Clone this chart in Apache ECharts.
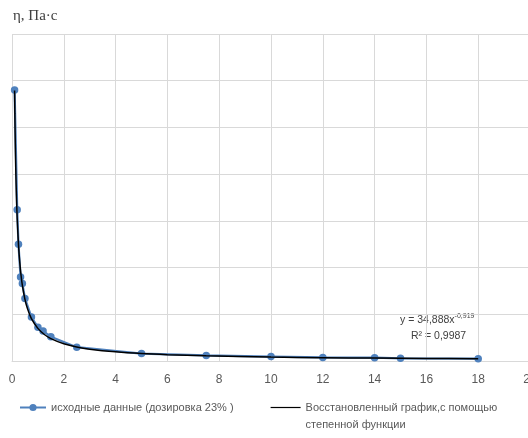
<!DOCTYPE html>
<html>
<head>
<meta charset="utf-8">
<script src="https://cdn.jsdelivr.net/npm/echarts@6/dist/echarts.min.js"></script>
<style>
  html, body { margin: 0; padding: 0; background: #fff; }
  #chart { width: 528px; height: 438px; }
</style>
</head>
<body>
<div id="chart"></div>
<script>
// Shear rate and measured viscosity (dosage 23 %)
const rateX = [0.1, 0.2, 0.25, 0.33, 0.4, 0.5, 0.75, 1, 1.2, 1.5, 2.5, 5, 7.5, 10, 12, 14, 15, 18];
const viscosity = [290, 162, 125, 90, 83, 67, 47, 36, 32, 26, 14.8, 7.9, 6.0, 4.8, 3.8, 3.5, 2.9, 2.5];

// Power-law fit y = 34,888 x^-0,919 sampled over the data range
const fitX = [0.1, 0.11, 0.12, 0.13, 0.14, 0.15, 0.17, 0.2, 0.25, 0.3, 0.35, 0.4, 0.5, 0.6, 0.75, 1, 1.25, 1.5, 2, 2.5, 3, 4, 5, 6, 7.5, 10, 12, 14, 16, 18];
const fitY = [289.5, 265.3, 244.8, 227.5, 212.5, 199.5, 177.8, 153.1, 124.7, 105.5, 91.5, 81.0, 66.0, 55.8, 45.4, 34.9, 28.4, 24.0, 18.5, 15.0, 12.7, 9.8, 7.9, 6.7, 5.5, 4.2, 3.6, 3.1, 2.7, 2.5];

const xTicks = [0, 2, 4, 6, 8, 10, 12, 14, 16, 18, 20];

const dataName = 'исходные данные (дозировка 23% )';
const fitName = 'Восстановленный график,с помощью\nстепенной функции';

const chart = echarts.init(document.getElementById('chart'), null, { renderer: 'canvas' });
const sans = 'Liberation Sans, Arial, sans-serif';

chart.setOption({
  animation: false,
  backgroundColor: '#ffffff',
  title: {
    text: 'η, Па·с',
    left: 8,
    top: 4,
    textStyle: { fontFamily: 'Liberation Serif, Times New Roman, serif', fontSize: 15, fontWeight: 'normal', color: '#404040' }
  },
  grid: { left: 12, top: 34, width: 518, height: 327, containLabel: false, outerBoundsMode: 'none' },
  xAxis: {
    type: 'value',
    min: xTicks[0],
    max: xTicks[xTicks.length - 1],
    interval: 2,
    axisLine: { show: true, lineStyle: { color: '#d9d9d9', width: 1 } },
    axisTick: { show: false },
    axisLabel: { color: '#595959', fontFamily: sans, fontSize: 12, margin: 13, showMaxLabel: true, hideOverlap: false },
    splitLine: { show: true, lineStyle: { color: '#d9d9d9', width: 1 } }
  },
  yAxis: {
    type: 'value',
    min: 0,
    max: 350,
    interval: 50,
    axisLine: { show: false },
    axisTick: { show: false },
    axisLabel: { show: false },
    splitLine: { show: true, lineStyle: { color: '#d9d9d9', width: 1 } }
  },
  legend: [
    {
      data: [dataName],
      left: 14,
      top: 397,
      itemWidth: 26,
      itemHeight: 9,
      textStyle: { color: '#595959', fontFamily: sans, fontSize: 11 }
    },
    {
      data: [{ name: fitName, itemStyle: { opacity: 0 } }],
      left: 265,
      top: 377,
      itemWidth: 30,
      itemHeight: 14,
      lineStyle: { width: 1.2 },
      formatter: function (name) {
        return ' \n' + name;
      },
      textStyle: { color: '#595959', fontFamily: sans, fontSize: 11, lineHeight: 17 }
    }
  ],
  graphic: [
    {
      type: 'text',
      left: 400,
      top: 313,
      style: {
        text: '{a|y = 34,888x}{b|-0,919}',
        rich: {
          a: { fontFamily: sans, fontSize: 10.5, fill: '#404040', lineHeight: 14 },
          b: { fontFamily: sans, fontSize: 7, fill: '#404040', verticalAlign: 'top', lineHeight: 14 }
        }
      }
    },
    {
      type: 'text',
      left: 411,
      top: 331,
      style: {
        text: 'R² = 0,9987',
        fontFamily: sans,
        fontSize: 10.5,
        fill: '#404040'
      }
    }
  ],
  series: [
    {
      name: dataName,
      type: 'line',
      data: rateX.map((x, i) => [x, viscosity[i]]),
      symbol: 'circle',
      symbolSize: 7.5,
      showSymbol: true,
      lineStyle: { color: '#4f81bd', width: 2.25 },
      itemStyle: { color: '#4f81bd', borderWidth: 0 },
      z: 2
    },
    {
      name: fitName,
      type: 'line',
      data: fitX.map((x, i) => [x, fitY[i]]),
      smooth: 0.3,
      symbol: 'none',
      showSymbol: false,
      lineStyle: { color: '#000000', width: 1.5 },
      itemStyle: { color: '#000000' },
      z: 3
    }
  ]
});
</script>
</body>
</html>
